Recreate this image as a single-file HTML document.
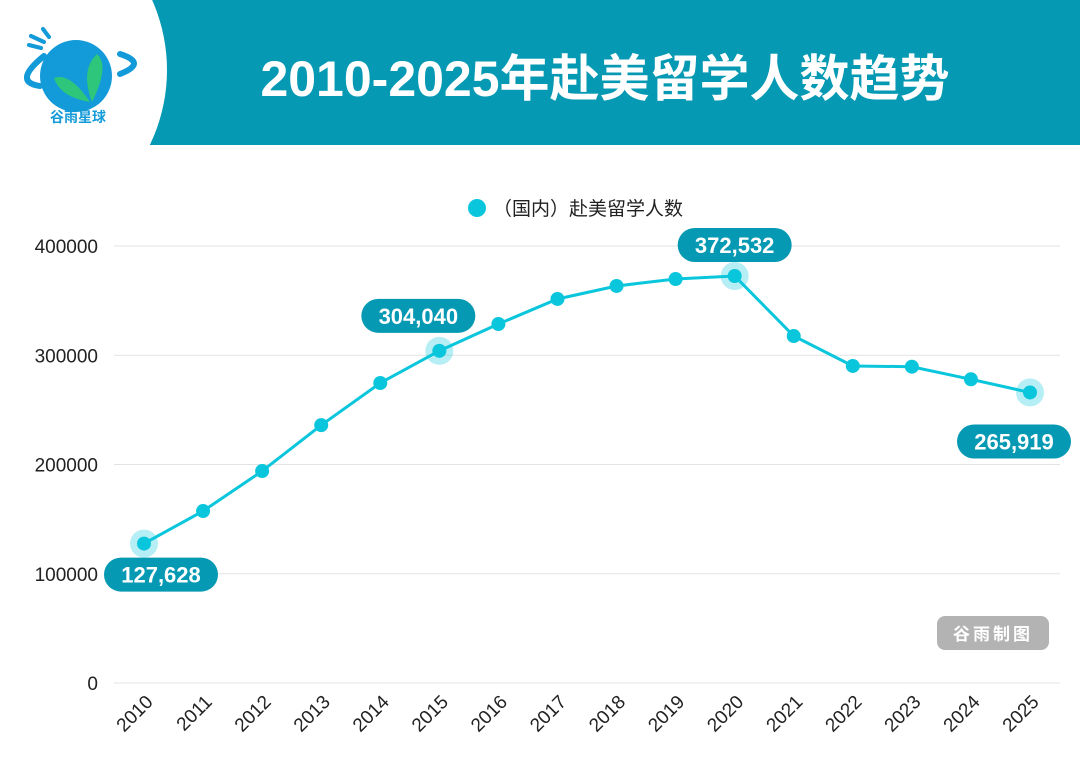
<!DOCTYPE html>
<html><head><meta charset="utf-8">
<style>
body{margin:0;width:1080px;height:763px;overflow:hidden;background:#fff;font-family:"Liberation Sans","Noto Sans CJK SC",sans-serif;}
</style></head>
<body>
<svg id="c" width="1080" height="763" viewBox="0 0 1080 763" xmlns="http://www.w3.org/2000/svg">
<rect x="0" y="0" width="1080" height="145" fill="#0599b3"/>
<circle cx="-5" cy="70" r="172" fill="#fff"/>
<g>
<circle cx="76" cy="76" r="36" fill="#139ad8"/>
<path d="M44 56 Q12 82 40 86" stroke="#139ad8" stroke-width="6" fill="none" stroke-linecap="round"/>
<path d="M120 54 Q148 63 120 74" stroke="#139ad8" stroke-width="6" fill="none" stroke-linecap="round"/>
<path d="M29 45 L41 48 M31 36 L44 42 M43 29 L49 37" stroke="#139ad8" stroke-width="4" stroke-linecap="round"/>
<path d="M92 102 Q80 70 97 54 Q110 66 92 102 Z" fill="#2ec67a"/>
<path d="M90 102 Q70 72 54 78 Q60 97 90 102 Z" fill="#2ec67a"/>
<text x="78" y="122" text-anchor="middle" font-size="14" font-weight="bold" fill="#139ad8">谷雨星球</text>
</g>
<text x="605" y="96" text-anchor="middle" font-size="50" font-weight="bold" fill="#fff">2010-2025年赴美留学人数趋势</text>
<g>
<circle cx="477" cy="208" r="9" fill="#0ac6dc"/>
<text x="493" y="215" font-size="19" fill="#222">（国内）赴美留学人数</text>
</g>
<g id="grid"></g><g id="marks"></g>
<g>
<rect x="937" y="616" width="112" height="34" rx="8" fill="#b3b3b3"/>
<text x="993" y="640" text-anchor="middle" font-size="17" font-weight="bold" fill="#fff" letter-spacing="3">谷雨制图</text>
</g>
</svg>
<script>
const years=["2010","2011","2012","2013","2014","2015","2016","2017","2018","2019","2020","2021","2022","2023","2024","2025"];
const students=[127628,157400,194000,236000,274600,304040,328600,351500,363400,369800,372532,317600,290200,289500,278000,265919];
const yTicks=[0,100000,200000,300000,400000];
const highlighted=["2010","2015","2020","2025"];
const NS="http://www.w3.org/2000/svg";
const X0=144,X1=1030,Y0=683,YMAX=400000,YTOP=246;
function xs(i){return X0+(X1-X0)*i/(years.length-1);}
function ys(v){return Y0-(Y0-YTOP)*v/YMAX;}
function mk(t,a,p){const e=document.createElementNS(NS,t);for(const k in a)e.setAttribute(k,a[k]);(p||document.getElementById('marks')).appendChild(e);return e;}
const g=document.getElementById('grid');
yTicks.forEach(v=>{
 const l=mk('line',{x1:114,x2:1060,y1:ys(v),y2:ys(v),stroke:'#e3e3e3','stroke-width':1},g);
 
 
 const t=mk('text',{x:98,y:ys(v)+7,'text-anchor':'end','font-size':19,fill:'#222'},g);
 t.textContent=String(v);
 
 
});
years.forEach((y,i)=>{
 const t=mk('text',{x:0,y:0,'text-anchor':'end','font-size':19,fill:'#222',transform:`translate(${xs(i)+10},${703}) rotate(-45)`},g);
 t.textContent=y;
 
 
});
const line=mk('polyline',{points:students.map((v,i)=>xs(i)+','+ys(v)).join(' '),fill:'none',stroke:'#0ac6dc','stroke-width':3});


students.forEach((v,i)=>{
 if(highlighted.includes(years[i])){const h=mk('circle',{cx:xs(i),cy:ys(v),r:14,fill:'#0ac6dc','fill-opacity':0.3});
  
  }
 const c=mk('circle',{cx:xs(i),cy:ys(v),r:7,fill:'#0ac6dc'});
 
 
});
const offs={"2010":[17,31],"2015":[-21,-35],"2020":[0,-31],"2025":[-16,49]};
students.forEach((v,i)=>{
 const o=offs[years[i]];if(!o)return;
 const cx=xs(i)+o[0],cy=ys(v)+o[1];
 const r=mk('rect',{x:cx-57,y:cy-17,width:114,height:34,rx:17,fill:'#0599b3'});
 
 
 const t=mk('text',{x:cx,y:cy+8,'text-anchor':'middle','font-size':22,'font-weight':'bold',fill:'#fff'});
 t.textContent=v.toLocaleString('en-US');
 
 
});
</script>
</body></html>
